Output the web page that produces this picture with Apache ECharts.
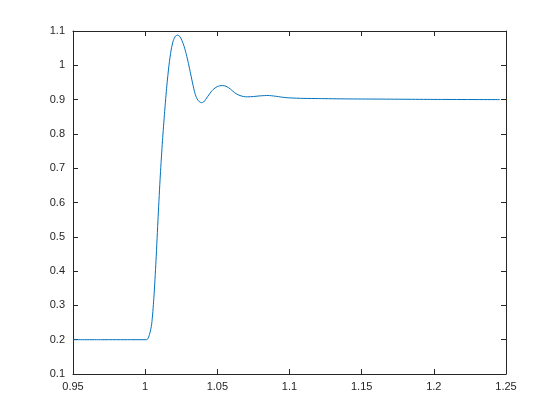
<!DOCTYPE html>
<html>
<head>
<meta charset="utf-8">
<script src="https://cdn.jsdelivr.net/npm/echarts@6/dist/echarts.min.js"></script>
<style>html,body{margin:0;padding:0;background:#fff;}#c{width:560px;height:420px;}</style>
</head>
<body>
<div id="c"></div>
<script>
const xValues = [0.95, 0.97, 0.99, 1.0, 1.0015, 1.003, 1.0045, 1.006, 1.0075, 1.009, 1.0105, 1.012, 1.0135, 1.015, 1.0165, 1.018, 1.0195, 1.021, 1.0225, 1.024, 1.0255, 1.027, 1.0285, 1.030, 1.0315, 1.033, 1.0345, 1.036, 1.0375, 1.039, 1.0405, 1.042, 1.0445, 1.047, 1.050, 1.0534, 1.056, 1.059, 1.062, 1.065, 1.068, 1.071, 1.075, 1.080, 1.085, 1.090, 1.095, 1.100, 1.110, 1.120, 1.140, 1.160, 1.180, 1.200, 1.2457];
const yValues = [0.2, 0.2, 0.2, 0.2, 0.201, 0.215, 0.245, 0.32, 0.43, 0.56, 0.68, 0.78, 0.865, 0.94, 1.0, 1.045, 1.072, 1.085, 1.088, 1.084, 1.072, 1.055, 1.032, 1.005, 0.975, 0.945, 0.918, 0.902, 0.894, 0.891, 0.893, 0.901, 0.916, 0.929, 0.938, 0.941, 0.939, 0.931, 0.920, 0.913, 0.909, 0.908, 0.909, 0.911, 0.912, 0.910, 0.907, 0.905, 0.9035, 0.903, 0.902, 0.9015, 0.901, 0.9005, 0.900];
const xTicks = {min: 0.95, max: 1.25, interval: 0.05};
const yTicks = {min: 0.1, max: 1.1, interval: 0.1};

const data = xValues.map((x, i) => [x, yValues[i]]);
const axisColor = '#262626';
const fmt = v => String(+(+v).toFixed(2));
function axis(base, show) {
  return Object.assign({
    type: 'value',
    axisLine: {show: true, onZero: false, lineStyle: {color: axisColor, width: 1}},
    axisTick: {show: true, inside: true, length: 5, lineStyle: {color: axisColor}},
    axisLabel: {show: show, color: axisColor, fontFamily: 'Liberation Sans, Arial, sans-serif', fontSize: 11, formatter: fmt},
    splitLine: {show: false}
  }, base);
}
const chart = echarts.init(document.getElementById('c'), null, {renderer: 'canvas'});
chart.setOption({
  animation: false,
  backgroundColor: '#ffffff',
  grid: {left: 73, right: 54, top: 31, bottom: 46, containLabel: false},
  xAxis: [
    axis(Object.assign({position: 'bottom'}, xTicks, {axisLabel: {show: true, color: axisColor, fontFamily: 'Liberation Sans, Arial, sans-serif', fontSize: 11, margin: 7, formatter: fmt}}), true),
    axis(Object.assign({position: 'top'}, xTicks), false)
  ],
  yAxis: [
    axis(Object.assign({position: 'left'}, yTicks, {axisLabel: {show: true, color: axisColor, fontFamily: 'Liberation Sans, Arial, sans-serif', fontSize: 11, margin: 8, formatter: fmt}}), true),
    axis(Object.assign({position: 'right'}, yTicks), false)
  ],
  series: [{
    type: 'line',
    data: data,
    xAxisIndex: 0,
    yAxisIndex: 0,
    showSymbol: false,
    smooth: 0.25,
    lineStyle: {color: '#0072BD', width: 1}
  }]
});
</script>
</body>
</html>
